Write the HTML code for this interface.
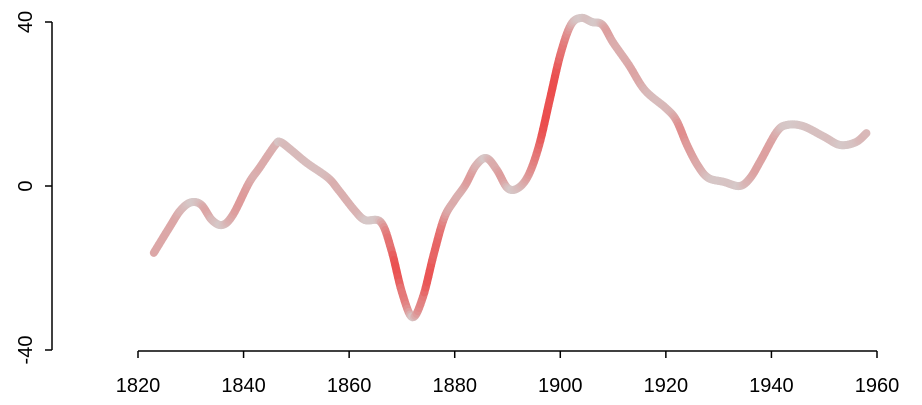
<!DOCTYPE html>
<html><head><meta charset="utf-8"><style>
html,body{margin:0;padding:0;background:#fff;}
svg{display:block;font-family:"Liberation Sans",Arial,sans-serif;}
</style></head><body>
<svg id="chart" width="922" height="405" viewBox="0 0 922 405">
<g id="axes"></g>
<g id="series"></g>
</svg>
<script>
const years=[1823,1826,1828,1830,1832,1834,1836,1838,1841,1843,1846,1847,1849,1852,1856,1858,1861,1863,1866,1868,1870,1872,1874,1876,1878,1880,1882,1884,1886,1888,1890,1892,1894,1896,1898,1900,1902,1904,1906,1908,1910,1913,1916,1920,1922,1924,1926,1928,1931,1934,1936,1938,1941,1943,1946,1950,1953,1956,1958];
const values=[-16.3,-10,-6,-4,-4.6,-8.3,-9.5,-7,0.7,4.4,10,10.7,8.8,5.6,2,-1,-5.9,-8.3,-8.8,-15.6,-25.9,-32,-27,-16.8,-7.8,-3.4,0.2,5,6.8,3.9,-0.5,-0.5,2.7,10,21,32,39.3,41,40,39.3,35,29.5,23.4,19,16,10,5.1,2,1,0,2,6.3,13.2,14.9,14.6,12,10,10.7,12.9];
const xTicks=[1820,1840,1860,1880,1900,1920,1940,1960];
const yTicks=[-40,0,40];
const NS="http://www.w3.org/2000/svg";
const xs=v=>138+(v-1820)*(877-138)/140;
const ys=v=>186-v*(164/40);
const axes=document.getElementById('axes');
function mk(tag,attrs,parent){const e=document.createElementNS(NS,tag);for(const k in attrs)e.setAttribute(k,attrs[k]);parent.appendChild(e);return e;}
let xl=mk('line',{x1:xs(1820),x2:xs(1960),y1:351,y2:351,stroke:'#000','stroke-width':1.5},axes);


xTicks.forEach(t=>{
 const tk=mk('line',{x1:xs(t),x2:xs(t),y1:351,y2:358,stroke:'#000','stroke-width':1.5},axes);
 
 
 const tx=mk('text',{x:xs(t),y:392,'text-anchor':'middle','font-size':20},axes);
 tx.textContent=t;
 
 
});
let yl=mk('line',{x1:52,x2:52,y1:ys(40),y2:ys(-40),stroke:'#000','stroke-width':1.5},axes);


yTicks.forEach(t=>{
 const tk=mk('line',{x1:45,x2:52,y1:ys(t),y2:ys(t),stroke:'#000','stroke-width':1.5},axes);
 
 
 const tx=mk('text',{x:0,y:0,'text-anchor':'middle','font-size':20,transform:`translate(32,${ys(t)}) rotate(-90)`},axes);
 tx.textContent=t;
 
 
});
const pts=years.map((y,i)=>[xs(y),ys(values[i])]);
const dense=[];
for(let i=0;i<pts.length-1;i++){
 const p0=pts[Math.max(0,i-1)],p1=pts[i],p2=pts[i+1],p3=pts[Math.min(pts.length-1,i+2)];
 for(let s=0;s<8;s++){const t=s/8,t2=t*t,t3=t2*t;
  const f=k=>0.5*((2*p1[k])+(-p0[k]+p2[k])*t+(2*p0[k]-5*p1[k]+4*p2[k]-p3[k])*t2+(-p0[k]+3*p1[k]-3*p2[k]+p3[k])*t3);
  dense.push([f(0),f(1)]);}
}
dense.push(pts[pts.length-1]);
const ser=document.getElementById('series');
for(let i=0;i<dense.length-1;i++){
 const a=dense[i],b=dense[i+1];
 const sl=Math.abs((b[1]-a[1])/(b[0]-a[0]||1));
 const k=Math.min(1,Math.pow(sl/5,1.3));
 const base=[214,200,200];
 const c=[base[0]+(238-base[0])*k,base[1]+(59-base[1])*k,base[2]+(59-base[2])*k].map(Math.round);
 const seg=mk('line',{x1:a[0],y1:a[1],x2:b[0],y2:b[1],stroke:`rgb(${c})`,'stroke-width':8,'stroke-linecap':'round'},ser);
 
 
}
</script>
</body></html>
